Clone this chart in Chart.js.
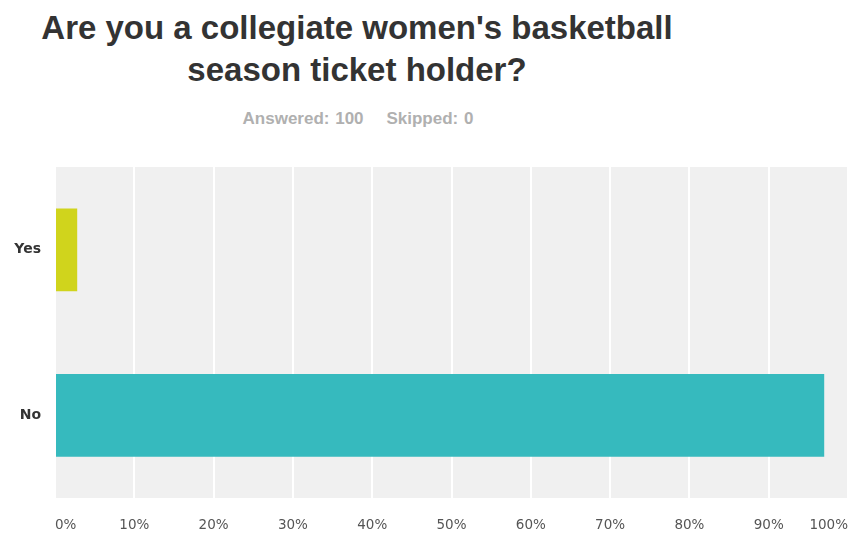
<!DOCTYPE html>
<html>
<head>
<meta charset="utf-8">
<script src="https://cdn.jsdelivr.net/npm/chart.js@4.4.1/dist/chart.umd.min.js"></script>
<style>
  html, body { margin: 0; padding: 0; background: #fff; }
  #wrap { position: relative; width: 857px; height: 540px; }
  #title {
    position: absolute; left: 0; top: 7px; width: 714px; text-align: center;
    font-family: "Liberation Sans", Arial, sans-serif; font-weight: bold;
    font-size: 33px; line-height: 42px; color: #333;
  }
  #sub {
    position: absolute; left: 0; top: 109px; width: 716px; text-align: center;
    font-family: "Liberation Sans", Arial, sans-serif; font-weight: bold;
    font-size: 17px; color: #b0b0b0; word-spacing: 1px;
  }
  canvas { position: absolute; left: 0; top: 0; }
</style>
</head>
<body>
<div id="wrap">
  <div id="title">Are you a collegiate women's basketball<br>season ticket holder?</div>
  <div id="sub">Answered: 100&nbsp;&nbsp;&nbsp;&nbsp;Skipped: 0</div>
  <canvas id="chart" width="857" height="540"></canvas>
</div>
<script>
// answer options and share of respondents (%)
const answers = ['Yes', 'No'];
const percents = [2.8, 97];
const barColors = ['#d0d41c', '#36babe'];
const xTicks = [0, 10, 20, 30, 40, 50, 60, 70, 80, 90, 100];

// grey plot background
const plotBg = {
    id: 'plotBg',
    beforeDraw(chart) {
        const a = chart.chartArea, ctx = chart.ctx;
        ctx.save();
        ctx.fillStyle = '#f0f0f0';
        ctx.fillRect(a.left, a.top, a.right - a.left, a.bottom - a.top);
        ctx.restore();
    }
};

new Chart(document.getElementById('chart'), {
    type: 'bar',
    data: {
        labels: answers,
        datasets: [{
            data: percents,
            backgroundColor: barColors,
            barPercentage: 0.5,
            categoryPercentage: 1.0
        }]
    },
    options: {
        responsive: false,
        animation: false,
        indexAxis: 'y',
        layout: { padding: { top: 167, right: 9, bottom: 0, left: 0 } },
        plugins: {
            legend: { display: false },
            tooltip: { enabled: false }
        },
        scales: {
            x: {
                min: 0, max: 100,
                afterBuildTicks: (scale) => { scale.ticks = xTicks.map(v => ({ value: v })); },
                afterFit: (scale) => { scale.height = 42; scale.paddingRight = 0; },
                grid: { color: '#ffffff', lineWidth: 2, drawTicks: false },
                border: { display: false },
                ticks: {
                    align: 'inner',
                    padding: 19,
                    color: '#555',
                    font: { family: '"DejaVu Sans", Verdana, sans-serif', size: 13.5 },
                    callback: (v) => v + '%'
                }
            },
            y: {
                afterFit: (scale) => { scale.width = 55; },
                grid: { display: false, drawTicks: false },
                border: { display: false },
                ticks: {
                    padding: 14,
                    color: '#333',
                    font: { family: '"DejaVu Sans", Verdana, sans-serif', size: 14, weight: 'bold' }
                }
            }
        }
    },
    plugins: [plotBg]
});
</script>
</body>
</html>
